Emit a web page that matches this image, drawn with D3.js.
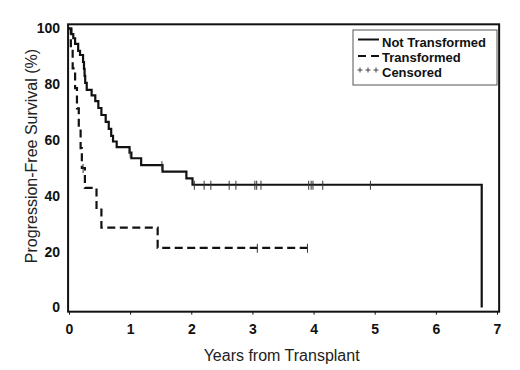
<!DOCTYPE html>
<html>
<head>
<meta charset="utf-8">
<script src="https://cdn.jsdelivr.net/npm/d3@7"></script>
<style>
  body { margin: 0; background: #fff; }
  text { font-family: "Liberation Sans", Arial, sans-serif; }
</style>
</head>
<body>
<div id="chart"></div>
<script>
// step data (years, % progression-free)
var notTransformedTimes = [0, 0.04, 0.07, 0.1, 0.15, 0.18, 0.23, 0.245, 0.255, 0.265, 0.29, 0.37, 0.43, 0.48,
    0.53, 0.6, 0.65, 0.69, 0.72, 0.78, 0.99, 1.02, 1.18, 1.53, 1.92, 2.02, 6.75];
var notTransformedSurvival = [100, 98, 96.5, 94.5, 92, 90.5, 88, 85.5, 83, 80.5, 78, 76, 74, 71.5,
    69, 66.5, 64, 61.5, 59.5, 57.5, 55.5, 53.5, 51, 48.7, 46.3, 44, 0];
var notTransformedCensored = [1.0, 1.52, 2.05, 2.21, 2.32, 2.62, 2.73, 3.04, 3.07, 3.14, 3.92, 3.96, 3.99, 4.15, 4.93];

var transformedTimes = [0, 0.03, 0.06, 0.1, 0.13, 0.16, 0.19, 0.21, 0.26, 0.45, 0.53, 1.45, 3.95];
var transformedSurvival = [100, 92.9, 85.7, 78.6, 71.4, 64.3, 57.1, 50, 42.9, 35.7, 28.6, 21.4, 21.4];
var transformedCensored = [0.23, 3.08, 3.9];

var xTicks = [0, 1, 2, 3, 4, 5, 6, 7];
var yTicks = [0, 20, 40, 60, 80, 100];
var legendLabels = ["Not Transformed", "Transformed", "Censored"];

var width = 520, height = 370;

var svg = d3.select("#chart").append("svg")
    .attr("width", width)
    .attr("height", height);

var x = d3.scaleLinear().domain([0, 7]).range([69, 497]);
var y = d3.scaleLinear().domain([0, 100]).range([307.5, 28.5]);

// frame sits a little outside the data range
var frameL = x(-0.015), frameR = x(7.035), frameT = y(101.5), frameB = y(-1.5);

svg.append("rect")
    .attr("x", frameL)
    .attr("y", frameT)
    .attr("width", frameR - frameL)
    .attr("height", frameB - frameT)
    .attr("fill", "none")
    .attr("stroke", "#111")
    .attr("stroke-width", 2);

// x axis ticks + labels
var xAxis = d3.axisBottom(x)
    .tickValues(xTicks)
    .tickSize(3)
    .tickSizeOuter(0)
    .tickPadding(9)
    .tickFormat(d3.format("d"));

var gx = svg.append("g")
    .attr("transform", "translate(0," + frameB + ")")
    .call(xAxis);
gx.select(".domain").remove();
gx.selectAll("line").attr("stroke", "#111");
gx.selectAll("text")
    .attr("fill", "#111")
    .style("font-size", "14px")
    .style("font-weight", "bold");

var yAxis = d3.axisLeft(y)
    .tickValues(yTicks)
    .tickSize(0)
    .tickPadding(8)
    .tickFormat(d3.format("d"));

var gy = svg.append("g")
    .attr("transform", "translate(" + frameL + ",0)")
    .call(yAxis);
gy.select(".domain").remove();
gy.selectAll("text")
    .attr("fill", "#111")
    .style("font-size", "14px")
    .style("font-weight", "bold");

svg.append("text")
    .attr("x", (frameL + frameR) / 2 - 2)
    .attr("y", 361)
    .attr("text-anchor", "middle")
    .attr("fill", "#222")
    .style("font-size", "16px")
    .text("Years from Transplant");

svg.append("text")
    .attr("transform", "translate(37," + (y(50) - 12) + ") rotate(-90)")
    .attr("text-anchor", "middle")
    .attr("fill", "#222")
    .style("font-size", "16px")
    .text("Progression-Free Survival (%)");

var line = d3.line()
    .x(function (d) { return x(d[0]); })
    .y(function (d) { return y(d[1]); })
    .curve(d3.curveStepAfter);

function survivalAt(times, values, t) {
    var v = values[0];
    for (var i = 0; i < times.length; i++) {
        if (times[i] <= t) v = values[i];
    }
    return v;
}

function drawCurve(times, values, censored, dash) {
    var pts = times.map(function (t, i) { return [t, values[i]]; });
    svg.append("path")
        .datum(pts)
        .attr("d", line)
        .attr("fill", "none")
        .attr("stroke", "#111")
        .attr("stroke-width", 2.2)
        .attr("stroke-dasharray", dash);

    svg.selectAll(null)
        .data(censored)
        .enter().append("line")
        .attr("x1", function (d) { return x(d); })
        .attr("x2", function (d) { return x(d); })
        .attr("y1", function (d) { return y(survivalAt(times, values, d)) - 4; })
        .attr("y2", function (d) { return y(survivalAt(times, values, d)) + 5; })
        .attr("stroke", "#333")
        .attr("stroke-width", 1);
}

drawCurve(notTransformedTimes, notTransformedSurvival, notTransformedCensored, null);
drawCurve(transformedTimes, transformedSurvival, transformedCensored, "8,4.5");

// legend
var legend = svg.append("g").attr("transform", "translate(353,30)");
legend.append("rect")
    .attr("width", 144)
    .attr("height", 55)
    .attr("fill", "#fff")
    .attr("stroke", "#555")
    .attr("stroke-width", 1);

var rowY = [16.5, 32, 47];
legendLabels.forEach(function (label, i) {
    legend.append("text")
        .attr("x", 29)
        .attr("y", rowY[i])
        .attr("fill", "#111")
        .style("font-size", "13px")
        .style("font-weight", "bold")
        .text(label);
});

legend.append("line")
    .attr("x1", 5).attr("x2", 26)
    .attr("y1", rowY[0] - 7).attr("y2", rowY[0] - 7)
    .attr("stroke", "#111").attr("stroke-width", 2);

legend.append("line")
    .attr("x1", 5).attr("x2", 26)
    .attr("y1", rowY[1] - 6).attr("y2", rowY[1] - 6)
    .attr("stroke", "#111").attr("stroke-width", 2)
    .attr("stroke-dasharray", "8,5");

[7, 15, 23].forEach(function (cx) {
    legend.append("path")
        .attr("d", "M" + (cx - 2.5) + "," + (rowY[2] - 7) + "h5M" + cx + "," + (rowY[2] - 9.5) + "v5")
        .attr("stroke", "#444")
        .attr("stroke-width", 1);
});
</script>
</body>
</html>
